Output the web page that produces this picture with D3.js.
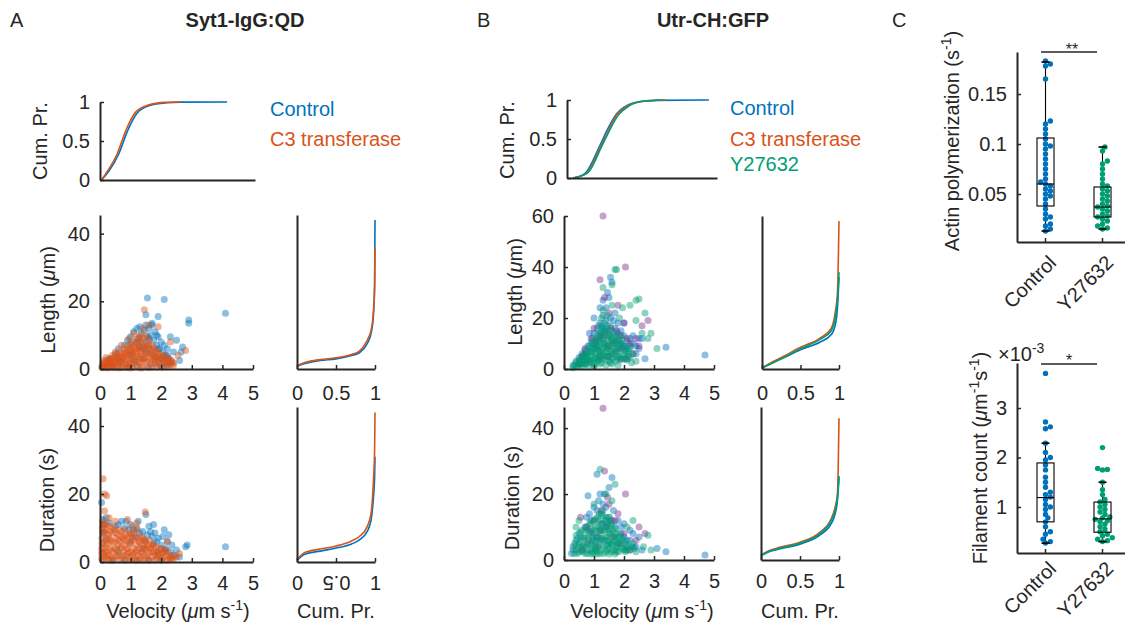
<!DOCTYPE html>
<html>
<head>
<meta charset="utf-8">
<script src="https://cdn.jsdelivr.net/npm/d3@7"></script>
<style>
  body { margin: 0; background: #fff; }
  svg { font-family: "Liberation Sans", Arial, sans-serif; }
  .axis path, .axis line { stroke: #262626; }
  .axis path { stroke-width: 2; }
  .axis line { stroke-width: 1.5; }
  .axis text { fill: #262626; font-size: 20px; font-family: "Liberation Sans", Arial, sans-serif; }
</style>
</head>
<body>
<svg id="fig" width="1125" height="624"></svg>
<script>
const blue = '#0072BD', orange = '#D95319', green = '#009E73', purple = '#7E2F8E', ink = '#262626';

// tick values
const velTicks = [0, 1, 2, 3, 4, 5];
const cdfTicks = [0, 0.5, 1];
const lenTicksA = [0, 20, 40];
const lenTicksB = [0, 20, 40, 60];
const durTicks = [0, 20, 40];
const polyTicks = [0.05, 0.1, 0.15];
const countTicks = [1, 2, 3];
const groupsC = ['Control', 'Y27632'];

// cumulative velocity distributions [velocity, cum. pr.]
const velCdfA_ctrl = [[0.05,0],[0.3,0.12],[0.6,0.33],[0.9,0.64],[1.2,0.86],[1.6,0.955],[2.15,0.99],[2.6,0.998],[4.1,1]];
const velCdfA_c3 = [[0.05,0],[0.25,0.12],[0.55,0.33],[0.85,0.65],[1.15,0.87],[1.55,0.96],[2.1,0.995],[2.6,1]];
const velCdfB_ctrl = [[0.2,0],[0.6,0.06],[1.1,0.42],[1.32,0.6],[1.65,0.82],[2.0,0.93],[2.45,0.98],[3.0,0.995],[4.73,1]];
const velCdfB_c3 = [[0.2,0],[0.65,0.06],[1.12,0.4],[1.35,0.58],[1.66,0.81],[2.0,0.92],[2.45,0.98],[3.3,1]];
const velCdfB_y = [[0.2,0],[0.7,0.07],[1.15,0.4],[1.38,0.58],[1.7,0.8],[2.05,0.92],[2.5,0.98],[3.2,1]];

// cumulative length / duration distributions [cum. pr., value]
const lenCdfA_ctrl = [[0,0.8],[0.1,1.6],[0.3,2.5],[0.5,3.0],[0.7,4.0],[0.8,4.8],[0.9,7.5],[0.95,10.5],[0.98,16],[0.995,25],[1,44]];
const lenCdfA_c3 = [[0,1],[0.1,1.9],[0.3,2.8],[0.5,3.3],[0.7,4.3],[0.8,5.3],[0.9,8.5],[0.95,11.5],[0.98,17],[0.995,24],[1,36]];
const durCdfA_ctrl = [[0,0.5],[0.1,2.3],[0.3,3.2],[0.5,4.1],[0.7,5.3],[0.8,6.5],[0.9,9],[0.95,12.4],[0.98,19],[0.995,25],[1,31]];
const durCdfA_c3 = [[0,0.7],[0.1,2.8],[0.3,3.8],[0.5,4.7],[0.7,6.2],[0.8,7.5],[0.9,10.4],[0.95,14.4],[0.98,24],[0.995,33],[1,44]];
const lenCdfB_ctrl = [[0,0.4],[0.1,2],[0.25,4.0],[0.5,7.5],[0.75,10.5],[0.9,13.5],[0.95,17],[0.98,24],[1,36]];
const lenCdfB_c3 = [[0,0.4],[0.1,2.2],[0.25,4.5],[0.5,8.5],[0.75,12],[0.9,16],[0.95,22],[0.98,30],[1,58]];
const lenCdfB_y = [[0,0.4],[0.1,1.8],[0.25,4.0],[0.5,8],[0.75,11.5],[0.9,15],[0.95,20],[0.98,27],[1,38]];
const durCdfB_ctrl = [[0,1.3],[0.1,2.5],[0.25,3.4],[0.5,4.8],[0.75,7.5],[0.9,11],[0.95,14],[0.98,18],[1,25]];
const durCdfB_c3 = [[0,1.5],[0.1,2.8],[0.25,3.9],[0.5,5.4],[0.75,8.3],[0.9,12.5],[0.95,16],[0.98,20],[1,43]];
const durCdfB_y = [[0,1.4],[0.1,2.6],[0.25,3.6],[0.5,5.1],[0.75,7.9],[0.9,12],[0.95,15],[0.98,19],[1,25.5]];

// scatter points [velocity, length] and [velocity, duration]
const lenA_ctrl = [[0.3,3],[0.5,4.5],[0.6,6],[0.8,7],[0.9,8.5],[1.0,9.5],[1.1,11],[1.2,12],[1.25,9],[1.3,12.5],[1.35,10.5],[1.4,8],[1.45,11.5],[1.5,13],[1.55,9.5],[1.6,12],[1.65,10],[1.7,13],[1.75,8.5],[1.8,11],[1.85,7],[1.9,9.5],[1.95,6],[2.0,8],[2.05,5],[2.1,7],[2.15,4],[2.2,6],[2.25,3],[2.3,9.5],[2.4,5],[2.5,8.5],[2.6,2.5],[2.65,5],[2.7,6.5],[2.9,14.5],[2.9,13.5],[4.1,16.5],[1.55,21],[2.1,20.5],[1.5,16],[1.9,15.5],[1.7,13.5],[1.2,1],[1.6,0.5],[1.8,1.5],[2.0,0.8],[0.9,0.5],[1.4,3],[1.0,4],[1.8,3.5],[0.4,1],[0.7,2],[1.1,2.5],[1.5,5],[2.2,1.2],[2.35,2],[1.3,6.5],[1.6,7],[2.2,4],[2.0,3],[1.9,6],[1.7,5],[1.6,9],[1.4,6],[1.2,8],[1.0,7.5],[2.1,2],[1.85,10]];
const lenA_c3 = [[0.05,0.5],[0.08,1.2],[0.1,0.4],[0.12,2.0],[0.15,0.9],[0.18,1.6],[0.2,0.5],[0.22,2.5],[0.25,1.1],[0.28,1.8],[0.3,0.6],[0.32,2.8],[0.35,1.3],[0.38,2.2],[0.4,0.7],[0.42,3.2],[0.45,1.5],[0.48,2.6],[0.5,0.8],[0.52,3.6],[0.55,1.9],[0.58,2.9],[0.6,1.0],[0.62,4.0],[0.65,2.3],[0.68,3.3],[0.7,1.2],[0.72,4.5],[0.75,2.6],[0.78,3.8],[0.8,1.4],[0.82,5.0],[0.85,2.8],[0.88,4.2],[0.9,1.5],[0.92,5.6],[0.95,3.1],[0.98,4.6],[1.0,1.6],[1.02,6.2],[1.05,3.4],[1.08,5.0],[1.1,1.8],[1.12,6.8],[1.15,3.6],[1.18,5.4],[1.2,2.0],[1.22,7.5],[1.25,3.8],[1.28,5.8],[1.3,2.1],[1.32,8.2],[1.35,4.0],[1.38,6.2],[1.4,2.2],[1.42,9.0],[1.45,4.2],[1.48,6.5],[1.5,2.3],[1.52,7.8],[1.55,4.4],[1.58,6.0],[1.6,2.4],[1.62,8.5],[1.65,4.5],[1.7,2.5],[1.72,6.8],[1.75,4.0],[1.8,2.2],[1.82,5.5],[1.85,3.5],[1.9,2.0],[1.92,4.8],[1.95,3.0],[2.0,1.8],[2.05,4.0],[2.1,2.6],[2.15,1.5],[2.2,3.2],[2.25,2.0],[2.3,1.2],[2.35,2.5],[2.4,1.0],[1.45,17.5],[1.6,13],[1.4,12],[1.9,12.5],[1.1,10.5],[1.3,10],[0.95,9],[0.7,7],[0.5,5],[2.8,5.5],[2.55,4],[2.3,8],
  [0.1,1.5],[0.15,2.6],[0.2,3.4],[0.25,0.3],[0.3,1.9],[0.35,3.0],[0.4,4.0],[0.45,0.4],[0.5,2.2],[0.55,4.4],[0.6,3.0],[0.65,5.2],[0.7,0.4],[0.75,3.3],[0.8,6.0],[0.85,0.5],[0.85,4.8],[0.9,6.8],[0.95,2.2],[1.0,5.5],[1.0,7.2],[1.05,0.5],[1.05,4.5],[1.1,8.0],[1.15,2.5],[1.15,6.0],[1.2,4.6],[1.2,8.8],[1.25,0.6],[1.25,6.8],[1.3,3.0],[1.3,9.3],[1.35,5.2],[1.4,0.6],[1.4,7.2],[1.45,3.2],[1.5,5.5],[1.5,9.8],[1.55,0.6],[1.55,7.0],[1.6,3.5],[1.65,5.8],[1.7,0.6],[1.7,4.2],[1.75,6.2],[1.8,3.0],[1.85,0.6],[1.85,5.0],[1.9,3.8],[1.95,1.2],[2.0,3.2],[2.05,0.5],[2.1,4.0],[2.15,2.8],[2.2,0.6],[2.25,3.0],[2.3,2.0],[2.4,1.8],[0.6,0.3],[1.0,0.3],[1.35,0.3],[1.65,1.5],[0.95,0.9]];
const durA_ctrl = [[0.05,17.5],[0.1,12.5],[0.12,11],[0.2,13],[0.3,11.5],[0.5,10.5],[0.6,11],[0.7,12],[0.85,12],[1.0,11],[1.1,9.5],[1.2,10],[1.3,8.5],[1.4,9],[1.5,14],[1.55,8],[1.6,10.5],[1.7,7.5],[1.8,8.5],[1.85,6],[1.9,7],[2.0,5],[2.1,9.5],[2.15,4],[2.2,6],[2.3,3],[2.35,5],[2.4,2],[2.5,3.5],[2.6,1.5],[2.85,5],[2.8,4.5],[4.1,4.5],[0.4,0.5],[0.8,0.5],[1.2,0.5],[1.6,0.5],[2.0,0.5],[1.0,6],[1.4,4],[1.9,2.5],[0.6,3],[0.2,7],[0.1,9],[1.75,11],[1.25,12],[0.95,9.5],[1.65,9],[2.05,7.5],[2.25,8],[1.45,6.5],[1.15,7.5],[1.75,5.5],[2.1,3.5],[0.8,10]];
const durA_c3 = [[0.05,1],[0.05,4],[0.06,7],[0.07,10],[0.08,12],[0.1,2.5],[0.1,5.5],[0.12,8.5],[0.12,11],[0.15,1.5],[0.15,4],[0.18,6.5],[0.2,9.5],[0.2,3],[0.22,1],[0.25,5.5],[0.28,8],[0.3,2],[0.3,10.5],[0.32,4],[0.35,6.5],[0.38,1.2],[0.4,8.5],[0.42,3],[0.45,5.5],[0.48,9.5],[0.5,1.5],[0.52,7],[0.55,3.5],[0.58,5],[0.6,8],[0.62,2],[0.65,6],[0.68,4],[0.7,9],[0.72,1.2],[0.75,7],[0.78,3],[0.8,5],[0.82,8],[0.85,2],[0.88,6],[0.9,3.8],[0.92,7.5],[0.95,1.5],[0.98,5.5],[1.0,3],[1.02,8.5],[1.05,2],[1.08,6.5],[1.1,4],[1.12,1.2],[1.15,7],[1.18,3],[1.2,5],[1.22,9.5],[1.25,2],[1.28,6],[1.3,4],[1.32,1.2],[1.35,7.5],[1.38,3],[1.4,5],[1.45,2],[1.48,6],[1.5,3.8],[1.52,1],[1.55,5],[1.6,2.8],[1.62,6.5],[1.65,4],[1.7,1.5],[1.72,5],[1.75,3],[1.8,2],[1.82,4.5],[1.85,1],[1.9,3.2],[1.95,2],[2.0,4],[2.05,1.2],[2.1,2.8],[2.15,1.8],[2.2,3],[2.25,1],[2.3,2],[2.35,1.2],[2.4,0.8],[2.5,1.5],[0.1,24.5],[0.15,20],[0.22,19.5],[0.15,15],[0.3,13],[0.5,12],[0.9,12.5],[1.05,10.5],[1.48,14.7],[1.2,11.5],[2.6,2.5],[2.2,6],
  [0.05,2.5],[0.06,5.5],[0.08,8.5],[0.1,11],[0.1,0.5],[0.14,3],[0.16,9],[0.2,5],[0.22,11],[0.25,2],[0.28,7],[0.3,0.5],[0.33,9],[0.36,3.5],[0.4,6],[0.42,10],[0.45,0.5],[0.5,4],[0.52,8.5],[0.55,2],[0.6,6.5],[0.63,9.5],[0.65,0.5],[0.7,4.5],[0.72,7.5],[0.75,2],[0.8,6.5],[0.82,9.5],[0.85,0.5],[0.88,4],[0.92,2.5],[0.95,8],[1.0,0.5],[1.0,5.5],[1.05,7.5],[1.1,2.5],[1.12,8.5],[1.15,0.5],[1.2,3.5],[1.25,7],[1.3,0.5],[1.3,5.5],[1.35,2.5],[1.4,7],[1.42,0.5],[1.45,4],[1.5,6],[1.55,2],[1.6,0.5],[1.6,4.5],[1.7,3],[1.75,5],[1.8,0.5],[1.85,3],[1.9,1.8],[1.95,4],[2.0,0.5],[2.05,2.5],[2.15,3.5],[2.2,0.5],[2.3,1.2],[2.45,1.8]];
const lenB_ctrl = [[0.3,1.5],[0.4,3],[0.5,4.5],[0.6,6],[0.7,7.5],[0.8,9],[0.9,10],[0.95,12],[1.0,14],[1.05,8],[1.1,16],[1.15,11],[1.2,18],[1.25,13],[1.3,21],[1.35,15],[1.4,24],[1.45,17],[1.5,28],[1.55,36],[1.6,34],[1.65,19],[1.7,16],[1.75,13],[1.8,18],[1.85,11],[1.9,15],[1.95,9],[2.0,13],[2.05,7],[2.1,11],[2.15,5],[2.2,9],[2.3,13],[2.4,6],[2.5,8],[2.6,12],[2.7,4],[3.4,8.5],[4.7,5.5],[1.3,27],[1.45,30],[1.2,24],[1.0,20],[0.85,14],[1.7,22],[2.0,18],[1.1,4],[1.5,3],[1.9,4],[0.7,2],
  [0.5,2],[0.6,3.5],[0.75,5],[0.9,7],[1.0,9.5],[1.1,11.5],[1.2,14],[1.3,16],[1.4,19],[1.5,13],[1.6,15],[1.7,11],[1.8,14],[1.9,10],[2.0,9],[2.1,8],[2.2,12],[2.3,10],[2.4,9],[2.5,12],[1.2,7],[1.4,5],[1.6,6],[1.8,8],[2.0,4],[1.35,10],[1.55,20],[1.25,17]];
const lenB_c3 = [[1.3,60],[2.05,40],[1.2,35],[1.35,28],[2.8,19],[2.6,17],[1.8,25],[2.0,18],[1.5,22],[1.0,16],[0.9,12],[0.7,8],[0.6,5],[1.1,9],[1.4,14],[1.6,11],[1.7,7],[1.9,13],[2.2,10],[2.3,6],[2.4,12],[1.25,5],[1.55,16],[0.5,2],[0.8,3],[1.2,13],[1.45,8],[1.75,15],[2.1,4],[2.5,9],[1.05,11],[0.7,6],[1.3,12],[1.5,9],[1.7,10],[1.9,8],[2.1,12],[1.2,4],[1.5,5],[1.8,4]];
const lenB_y = [[0.3,0.5],[0.35,1.5],[0.4,2.5],[0.45,1],[0.5,3.5],[0.55,2],[0.6,4.5],[0.62,1],[0.65,3],[0.7,5.5],[0.72,2],[0.75,4],[0.8,6.5],[0.82,1.5],[0.85,3.5],[0.88,8],[0.9,5],[0.92,2.5],[0.95,7],[0.98,10],[1.0,4],[1.02,1.5],[1.05,6],[1.08,9],[1.1,12],[1.12,3],[1.15,7.5],[1.18,5],[1.2,10.5],[1.22,14],[1.25,2.5],[1.28,8],[1.3,12],[1.32,5.5],[1.35,9.5],[1.38,15],[1.4,3.5],[1.42,7],[1.45,11],[1.48,13.5],[1.5,5],[1.52,9],[1.55,2.5],[1.58,12],[1.6,7],[1.62,4],[1.65,10],[1.68,14],[1.7,6],[1.72,3],[1.75,8.5],[1.78,11.5],[1.8,5],[1.85,9.5],[1.88,3.5],[1.9,7],[1.95,12],[2.0,5.5],[2.05,9],[2.1,3.5],[2.15,7],[2.2,4.5],[2.3,6],[2.4,3],[1.15,17],[1.25,20],[1.3,23],[1.35,18],[1.45,21],[1.55,17],[1.6,25],[1.7,39],[1.75,39],[1.6,33],[1.3,32],[2.5,27.5],[2.4,27],[2.7,22],[2.2,25],[3.1,8],[2.9,14],[1.85,20],[2.6,14],[2.8,12],[2.4,19],[1.95,24],
  [0.4,1.2],[0.5,2.5],[0.55,4],[0.6,2],[0.65,5.5],[0.7,3.5],[0.75,7],[0.8,2.5],[0.8,4.8],[0.85,9],[0.9,3.5],[0.9,6.5],[0.95,11],[1.0,2.5],[1.0,8],[1.05,4.5],[1.05,10.5],[1.1,6.5],[1.1,13.5],[1.15,3.5],[1.15,9],[1.2,5.5],[1.2,12.5],[1.25,7.5],[1.25,15.5],[1.3,4],[1.3,10],[1.35,6.5],[1.35,13],[1.4,9],[1.4,16],[1.45,5],[1.45,8.5],[1.5,11.5],[1.5,15],[1.55,7],[1.55,13],[1.6,4.5],[1.6,9.5],[1.65,12.5],[1.7,8],[1.75,5],[1.75,11],[1.8,7],[1.85,13],[1.9,4.5],[1.9,10],[2.0,8],[2.05,4],[2.1,6],[2.2,8],[2.25,2.5],[1.2,2],[1.4,1.5],[1.6,2],[1.8,1.5],[1.0,1.2]];
const durB_ctrl = [[0.25,2],[0.3,4],[0.4,6],[0.5,8],[0.6,3],[0.7,10],[0.8,19.5],[0.85,14],[0.9,5],[1.0,16],[1.1,26],[1.15,12],[1.2,20],[1.25,9],[1.3,17],[1.4,13],[1.5,22],[1.6,25],[1.65,15],[1.7,10],[1.8,12],[1.9,8],[2.0,11],[2.1,6],[2.2,9],[2.3,4],[2.5,7],[2.6,3],[3.1,3.5],[3.4,2.5],[4.7,1.5],[1.35,6],[1.05,3],[1.75,4],[0.95,7],[1.45,11],[1.55,5],[2.05,3],
  [0.4,3],[0.5,5],[0.6,7],[0.7,4],[0.8,9],[0.9,12],[1.0,8],[1.1,15],[1.2,6],[1.25,14],[1.3,11],[1.4,16],[1.5,9],[1.6,12],[1.7,7],[1.8,5],[1.9,10],[2.0,7],[2.1,4],[2.2,6],[2.3,8],[2.4,4],[1.15,18],[1.35,20],[0.75,13],[1.45,4.5],[1.05,5.5]];
const durB_c3 = [[1.3,46],[1.35,27],[2.05,20],[0.55,13],[1.0,12],[1.2,9],[1.5,17],[1.45,19],[1.8,14],[2.7,8],[2.5,10],[0.8,6],[1.1,4],[1.6,7],[1.9,5],[2.2,3],[0.6,3],[1.4,10],[0.9,9],[1.7,12],[2.4,6],[1.25,15],[1.55,12],[2.0,8],[0.75,10],[1.15,7]];
const durB_y = [[0.3,3],[0.35,5],[0.4,7.5],[0.45,2],[0.5,4],[0.55,6],[0.6,9],[0.62,2.5],[0.65,4.5],[0.7,7],[0.75,10],[0.78,2],[0.8,5],[0.85,8],[0.88,3],[0.9,11],[0.95,6],[0.98,2],[1.0,9],[1.02,4],[1.05,12.5],[1.08,7],[1.1,2.5],[1.12,10],[1.15,5],[1.18,14],[1.2,8],[1.22,3],[1.25,11],[1.28,6],[1.3,15],[1.32,2],[1.35,9],[1.38,4.5],[1.4,12],[1.42,7],[1.45,3],[1.48,10],[1.5,5.5],[1.52,13],[1.55,8],[1.58,2.5],[1.6,11],[1.62,4.5],[1.65,7],[1.7,9.5],[1.72,3],[1.75,6],[1.8,8],[1.82,2.5],[1.85,5],[1.9,7],[1.95,3.5],[2.0,6],[2.05,2.5],[2.1,4.5],[2.2,3],[2.3,5],[2.4,2.5],[0.4,10],[0.5,12],[1.2,27.5],[1.7,23],[1.4,20],[1.0,17],[1.6,18],[2.3,12],[2.1,10],[2.65,4],[2.8,7.5],[2.9,3],
  [0.35,2],[0.4,4.5],[0.45,6.5],[0.5,2.5],[0.55,8.5],[0.6,4],[0.65,6.5],[0.7,2],[0.72,9],[0.75,5],[0.8,3],[0.82,7],[0.85,11],[0.9,4.5],[0.92,8.5],[0.95,2.5],[0.98,12],[1.0,6],[1.05,3.5],[1.05,10],[1.1,7],[1.12,13],[1.15,4],[1.18,9],[1.2,2],[1.22,11],[1.25,6.5],[1.28,13.5],[1.3,4],[1.32,9],[1.35,12],[1.38,7],[1.4,2.5],[1.42,10],[1.45,6],[1.48,13],[1.5,3.5],[1.52,8],[1.55,11],[1.58,5],[1.62,9],[1.65,3],[1.68,6],[1.72,8],[1.75,2.5],[1.78,5],[1.82,7],[1.88,4],[1.92,6],[1.98,3],[2.05,5],[2.12,3],[2.25,4],[2.35,3.5],[1.1,1.8],[1.5,1.8],[0.9,1.8],[1.7,1.8]];

// panel C: per-cell values and box stats [lo whisker, q1, median, q3, hi whisker]
const polyCtrl = [0.183,0.18,0.178,0.165,0.123,0.12,0.115,0.11,0.105,0.1,0.098,0.095,0.09,0.085,0.08,0.075,0.07,0.065,0.062,0.06,0.058,0.055,0.053,0.05,0.048,0.045,0.04,0.035,0.03,0.027,0.025,0.02,0.018,0.015,0.013];
const polyY = [0.097,0.093,0.083,0.08,0.075,0.07,0.065,0.06,0.058,0.055,0.053,0.05,0.048,0.045,0.043,0.04,0.038,0.037,0.035,0.033,0.03,0.028,0.027,0.025,0.023,0.02,0.018,0.016,0.015];
const polyCtrlBox = [0.013, 0.038, 0.060, 0.106, 0.182];
const polyYBox = [0.015, 0.027, 0.037, 0.057, 0.097];
const countCtrl = [3.7,2.72,2.62,2.58,2.29,2.1,2.0,1.95,1.85,1.75,1.6,1.5,1.4,1.3,1.25,1.2,1.15,1.05,1.0,0.95,0.85,0.78,0.7,0.6,0.5,0.45,0.35,0.3,0.27];
const countY = [2.2,1.78,1.76,1.75,1.5,1.35,1.25,1.15,1.1,1.05,1.0,0.95,0.9,0.85,0.8,0.78,0.75,0.72,0.7,0.65,0.6,0.55,0.5,0.45,0.42,0.38,0.35,0.32,0.3];
const countCtrlBox = [0.27, 0.70, 1.19, 1.89, 2.29];
const countYBox = [0.30, 0.49, 0.76, 1.10, 1.50];

const svg = d3.select('#fig');

function axes(x, y, o) {
  const g = svg.append('g');
  const xa = d3.axisBottom(x).tickSizeOuter(0).tickSizeInner(-4)
    .tickPadding(o.xPad || 15).tickValues(o.xTicks || []).tickFormat(d => d);
  const gx = g.append('g').attr('class', 'axis')
    .attr('transform', 'translate(0,' + y.range()[0] + ')').call(xa);
  const ya = d3.axisLeft(y).tickSizeOuter(0).tickSizeInner(-4)
    .tickPadding(10).tickValues(o.yTicks || []).tickFormat(d => d);
  g.append('g').attr('class', 'axis')
    .attr('transform', 'translate(' + x.range()[0] + ',0)').call(ya);
  if (o.noXLabels) gx.selectAll('text').remove();
  return gx;
}

function dots(x, y, pts, color) {
  svg.append('g').selectAll('circle').data(pts).join('circle')
    .attr('cx', d => x(d[0])).attr('cy', d => y(d[1])).attr('r', 3.5)
    .attr('fill', color).attr('fill-opacity', 0.45);
}

function curve(x, y, pts, color) {
  svg.append('path').datum(pts)
    .attr('d', d3.line().x(d => x(d[0])).y(d => y(d[1])).curve(d3.curveMonotoneX))
    .attr('fill', 'none').attr('stroke', color).attr('stroke-width', 1.6);
}

// text with italic / superscript runs: parts = [[str, 'it'|'sup'|'']]
function label(cx, cy, rot, parts, opts) {
  opts = opts || {};
  const t = svg.append('text')
    .attr('transform', 'translate(' + cx + ',' + cy + ') rotate(' + rot + ')')
    .attr('text-anchor', opts.anchor || 'middle').attr('dy', opts.dy || '0.35em')
    .attr('fill', opts.color || ink).attr('font-size', opts.size || 20)
    .attr('font-weight', opts.weight || 'normal');
  let up = false;
  parts.forEach(p => {
    const s = t.append('tspan').text(p[0]);
    if (p[1] === 'it') s.attr('font-style', 'italic');
    if (p[1] === 'sup') { s.attr('font-size', 14).attr('dy', -8); up = true; }
    else if (up) { s.attr('dy', 8); up = false; }
  });
  return t;
}

// ---------------- panel A ----------------
label(10, 20, 0, [['A']], {anchor: 'start'});
label(245, 20, 0, [['Syt1-IgG:QD']], {weight: 'bold'});

let x = d3.scaleLinear([0, 5], [100, 255]);
let y = d3.scaleLinear([0, 1], [180, 102]);
curve(x, y, velCdfA_ctrl, blue);
curve(x, y, velCdfA_c3, orange);
axes(x, y, {yTicks: cdfTicks, noXLabels: true});
label(40, 141, -90, [['Cum. Pr.']]);
label(270, 109, 0, [['Control']], {anchor: 'start', color: blue});
label(270, 139, 0, [['C3 transferase']], {anchor: 'start', color: orange});

x = d3.scaleLinear([0, 5], [100, 253]);
y = d3.scaleLinear([0, 45.5], [369, 215]);
dots(x, y, lenA_ctrl, blue);
dots(x, y, lenA_c3, orange);
axes(x, y, {xTicks: velTicks, yTicks: lenTicksA, xPad: 17});
label(48, 300, -90, [['Length ('], ['\u03bc', 'it'], ['m)']]);

let xc = d3.scaleLinear([0, 1], [297, 375]);
curve(xc, y, lenCdfA_ctrl, blue);
curve(xc, y, lenCdfA_c3, orange);
axes(xc, y, {xTicks: cdfTicks, xPad: 17});

y = d3.scaleLinear([0, 45.6], [562, 407]);
dots(x, y, durA_ctrl, blue);
dots(x, y, durA_c3, orange);
axes(x, y, {xTicks: velTicks, yTicks: durTicks, xPad: 14});
label(47, 500, -90, [['Duration (s)']]);
label(178, 611, 0, [['Velocity ('], ['\u03bc', 'it'], ['m s'], ['-1', 'sup'], [')']]);

curve(xc, y, durCdfA_ctrl, blue);
curve(xc, y, durCdfA_c3, orange);
const flip = axes(xc, y, {xTicks: cdfTicks, xPad: 14});
flip.selectAll('.tick text').filter(d => d === 0.5)
  .attr('transform', 'rotate(180,0,' + (14 + 7) + ')');
label(336, 611, 0, [['Cum. Pr.']]);

// ---------------- panel B ----------------
label(477, 20, 0, [['B']], {anchor: 'start'});
label(713, 20, 0, [['Utr-CH:GFP']], {weight: 'bold'});

x = d3.scaleLinear([0, 5], [567, 717]);
y = d3.scaleLinear([0, 1], [178, 100]);
curve(x, y, velCdfB_ctrl, blue);
curve(x, y, velCdfB_c3, orange);
curve(x, y, velCdfB_y, green);
axes(x, y, {yTicks: cdfTicks, noXLabels: true});
label(507, 140, -90, [['Cum. Pr.']]);
label(730, 108, 0, [['Control']], {anchor: 'start', color: blue});
label(730, 139, 0, [['C3 transferase']], {anchor: 'start', color: orange});
label(730, 164, 0, [['Y27632']], {anchor: 'start', color: green});

x = d3.scaleLinear([0, 5], [564, 714]);
y = d3.scaleLinear([0, 60], [369, 216]);
dots(x, y, lenB_ctrl, blue);
dots(x, y, lenB_c3, purple);
dots(x, y, lenB_y, green);
axes(x, y, {xTicks: velTicks, yTicks: lenTicksB, xPad: 17});
label(515, 292, -90, [['Length ('], ['\u03bc', 'it'], ['m)']]);

xc = d3.scaleLinear([0, 1], [762, 839]);
curve(xc, y, lenCdfB_ctrl, blue);
curve(xc, y, lenCdfB_c3, orange);
curve(xc, y, lenCdfB_y, green);
axes(xc, y, {xTicks: cdfTicks, xPad: 17});

y = d3.scaleLinear([0, 46.4], [560, 407]);
dots(x, y, durB_ctrl, blue);
dots(x, y, durB_c3, purple);
dots(x, y, durB_y, green);
axes(x, y, {xTicks: velTicks, yTicks: durTicks, xPad: 14});
label(512, 498, -90, [['Duration (s)']]);
label(642, 611, 0, [['Velocity ('], ['\u03bc', 'it'], ['m s'], ['-1', 'sup'], [')']]);

xc = d3.scaleLinear([0, 1], [761, 839]);
curve(xc, y, durCdfB_ctrl, blue);
curve(xc, y, durCdfB_c3, orange);
curve(xc, y, durCdfB_y, green);
axes(xc, y, {xTicks: cdfTicks, xPad: 14});
label(800, 611, 0, [['Cum. Pr.']]);

// ---------------- panel C ----------------
label(892, 20, 0, [['C']], {anchor: 'start'});

function swarm(vals, ys, r) {
  const placed = [];
  vals.slice().sort((a, b) => a - b).forEach(v => {
    const py = ys(v);
    let k = 0, dx = 0;
    for (;;) {
      dx = (k % 2 ? 1 : -1) * Math.ceil(k / 2) * r * 0.9;
      if (!placed.some(p => Math.hypot(p.dx - dx, p.py - py) < 1.5 * r)) break;
      k++;
    }
    placed.push({dx: dx, py: py});
  });
  return placed;
}

function boxplot(xb, ys, cat, stats, vals, color) {
  const cx = xb(cat) + xb.bandwidth() / 2, hw = 8.5, cw = 4;
  const g = svg.append('g').attr('stroke', '#000').attr('stroke-width', 1.1).attr('fill', 'none');
  g.append('line').attr('x1', cx).attr('x2', cx).attr('y1', ys(stats[4])).attr('y2', ys(stats[3]));
  g.append('line').attr('x1', cx).attr('x2', cx).attr('y1', ys(stats[1])).attr('y2', ys(stats[0]));
  svg.append('g').selectAll('circle').data(swarm(vals, ys, 2.7)).join('circle')
    .attr('cx', d => cx + d.dx).attr('cy', d => d.py).attr('r', 2.7).attr('fill', color);
  const g2 = svg.append('g').attr('stroke', '#000').attr('stroke-width', 1.1).attr('fill', 'none');
  g2.append('rect').attr('x', cx - hw).attr('width', 2 * hw)
    .attr('y', ys(stats[3])).attr('height', ys(stats[1]) - ys(stats[3]));
  g2.append('line').attr('x1', cx - hw).attr('x2', cx + hw).attr('y1', ys(stats[2])).attr('y2', ys(stats[2]));
  [stats[0], stats[4]].forEach(v => g2.append('line')
    .attr('x1', cx - cw).attr('x2', cx + cw).attr('y1', ys(v)).attr('y2', ys(v)).attr('stroke-width', 1.6));
}

function cAxes(xb, ys, ticks, dy) {
  const gx = svg.append('g').attr('class', 'axis')
    .attr('transform', 'translate(0,' + ys.range()[0] + ')')
    .call(d3.axisBottom(xb).tickSizeOuter(0).tickSizeInner(-4));
  gx.selectAll('.tick text').attr('text-anchor', 'end').attr('y', 0).attr('dy', 0)
    .attr('transform', 'translate(12,' + dy + ') rotate(-45)');
  svg.append('g').attr('class', 'axis')
    .attr('transform', 'translate(' + xb.range()[0] + ',0)')
    .call(d3.axisLeft(ys).tickSizeOuter(0).tickSizeInner(-4).tickPadding(10)
      .tickValues(ticks).tickFormat(d => d));
}

const xb = d3.scaleBand(groupsC, [1017, 1131]);
let yc = d3.scaleLinear([0.002, 0.192], [242, 52]);
boxplot(xb, yc, 'Control', polyCtrlBox, polyCtrl, blue);
boxplot(xb, yc, 'Y27632', polyYBox, polyY, green);
cAxes(xb, yc, polyTicks, 22);
svg.append('line').attr('x1', 1041).attr('x2', 1097).attr('y1', 52).attr('y2', 52)
  .attr('stroke', ink).attr('stroke-width', 1.3);
svg.append('text').attr('x', 1072).attr('y', 55).attr('text-anchor', 'middle')
  .attr('font-size', 16).attr('fill', ink).text('**');
label(952, 141, -90, [['Actin polymerization (s'], ['-1', 'sup'], [')']]);

yc = d3.scaleLinear([0.07, 3.91], [553, 363]);
boxplot(xb, yc, 'Control', countCtrlBox, countCtrl, blue);
boxplot(xb, yc, 'Y27632', countYBox, countY, green);
cAxes(xb, yc, countTicks, 17);
svg.append('line').attr('x1', 1041).attr('x2', 1097).attr('y1', 364).attr('y2', 364)
  .attr('stroke', ink).attr('stroke-width', 1.3);
svg.append('text').attr('x', 1069).attr('y', 366).attr('text-anchor', 'middle')
  .attr('font-size', 16).attr('fill', ink).text('*');
label(998, 354, 0, [['\u00d710'], ['-3', 'sup']], {anchor: 'start'});
label(980, 458, -90, [['Filament count ('], ['\u03bc', 'it'], ['m'], ['-1', 'sup'], ['s'], ['-1', 'sup'], [')']]);
</script>
</body>
</html>
